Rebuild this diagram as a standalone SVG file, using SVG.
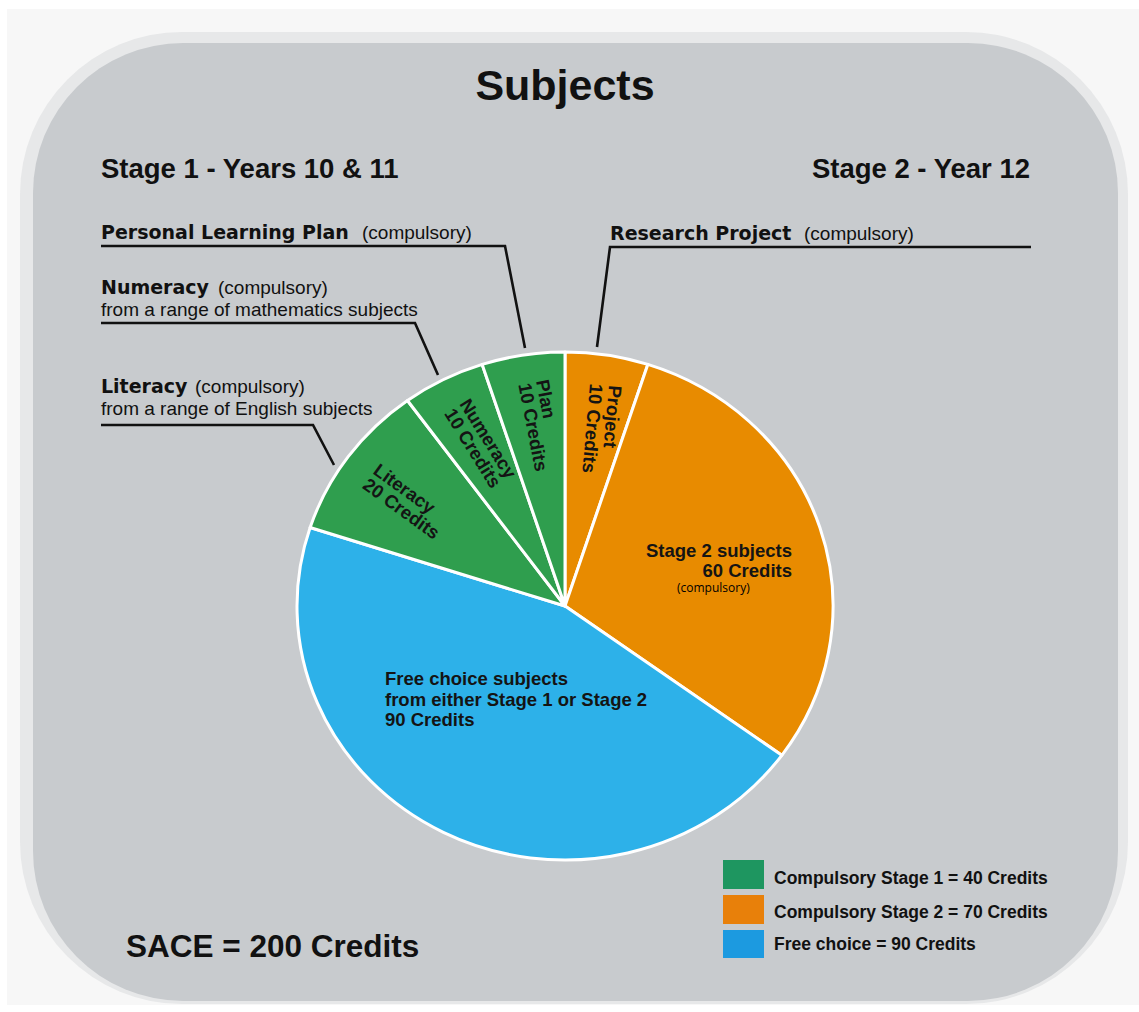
<svg xmlns="http://www.w3.org/2000/svg" width="1139" height="1012" viewBox="0 0 1139 1012">
<style>
.b{font-family:"Liberation Sans",Arial,sans-serif;font-weight:bold;fill:#111}
.d{font-family:"DejaVu Sans",sans-serif;font-weight:bold;fill:#111}
.r{font-family:"Liberation Sans",Arial,sans-serif;font-weight:normal;fill:#111}
.sl{stroke:#fff;stroke-width:3;stroke-linejoin:round}
.pl{font-family:"Liberation Sans",Arial,sans-serif;font-weight:bold;font-size:18.5px;fill:#141414}
.lead{fill:none;stroke:#111;stroke-width:2.6;stroke-linejoin:miter}
</style>
<rect x="0" y="0" width="1139" height="1012" fill="#ffffff"/>
<rect x="7" y="9" width="1132" height="996" fill="#f7f7f7"/>
<g id="panel">
<rect x="20" y="32" width="1108" height="972" rx="162" ry="162" fill="#e7e8e9"/>
<rect x="33" y="43" width="1085" height="958" rx="150" ry="150" fill="#c8cbce"/>
</g>
<g id="title">
<text class="b" x="565" y="100" font-size="43" text-anchor="middle">Subjects</text>
<text class="b" x="101" y="178" font-size="27.5">Stage 1 - Years 10 &amp; 11</text>
<text class="b" x="1030" y="178" font-size="27.5" text-anchor="end">Stage 2 - Year 12</text>
</g>
<g id="connectors">
<path class="lead" d="M101,246 H505 L525,348"/>
<path class="lead" d="M101,323 H415 L438,375"/>
<path class="lead" d="M101,425 H313 L334,465"/>
<path class="lead" d="M1031,247 H610 L597,347"/>
</g>
<g id="label-plp">
<text x="101" y="239" font-size="19"><tspan class="d">Personal Learning Plan</tspan><tspan class="r" x="362">(compulsory)</tspan></text>
</g>
<g id="label-numeracy">
<text x="101" y="294" font-size="19"><tspan class="d">Numeracy</tspan><tspan class="r" x="218">(compulsory)</tspan></text>
<text class="r" x="101" y="316" font-size="19">from a range of mathematics subjects</text>
</g>
<g id="label-literacy">
<text x="101" y="393" font-size="19"><tspan class="d">Literacy</tspan><tspan class="r" x="195">(compulsory)</tspan></text>
<text class="r" x="101" y="415" font-size="19">from a range of English subjects</text>
</g>
<g id="label-research">
<text x="610" y="240" font-size="19"><tspan class="d">Research Project</tspan><tspan class="r" x="804">(compulsory)</tspan></text>
</g>
<g id="pie">
<g id="slice-project">
<path class="sl" fill="#e88b00" d="M565,606 L565,352 A268,254 0 0 1 647.82,364.43 Z"/>
<text class="pl" transform="translate(609,385) rotate(95)"><tspan x="0" y="0">Project</tspan><tspan x="0" y="19">10 Credits</tspan></text>
</g>
<g id="slice-stage2">
<path class="sl" fill="#e88b00" d="M565,606 L647.82,364.43 A268,254 0 0 1 781.82,755.30 Z"/>
<text class="pl" font-size="17.5" text-anchor="end"><tspan x="792" y="557">Stage 2 subjects</tspan><tspan x="792" y="577">60 Credits</tspan></text>
<text x="677" y="592" font-family="'Open Sans',sans-serif" font-size="12" fill="#000">(compulsory)</text>
</g>
<g id="slice-free">
<path class="sl" fill="#2db1e9" d="M565,606 L781.82,755.30 A268,254 0 0 1 310.12,527.51 Z"/>
<text class="pl" font-size="18"><tspan x="385" y="685">Free choice subjects</tspan><tspan x="385" y="705.5">from either Stage 1 or Stage 2</tspan><tspan x="385" y="726">90 Credits</tspan></text>
</g>
<g id="slice-literacy">
<path class="sl" fill="#2f9e4e" d="M565,606 L310.12,527.51 A268,254 0 0 1 407.47,400.51 Z"/>
<text class="pl" transform="translate(372,473) rotate(36)"><tspan x="0" y="0">Literacy</tspan><tspan x="0" y="18">20 Credits</tspan></text>
</g>
<g id="slice-numeracy">
<path class="sl" fill="#2f9e4e" d="M565,606 L407.47,400.51 A268,254 0 0 1 482.18,364.43 Z"/>
<text class="pl" transform="translate(459,404) rotate(58)"><tspan x="0" y="0">Numeracy</tspan><tspan x="0" y="18">10 Credits</tspan></text>
</g>
<g id="slice-plan">
<path class="sl" fill="#2f9e4e" d="M565,606 L482.18,364.43 A268,254 0 0 1 565,352 Z"/>
<text class="pl" transform="translate(536,381) rotate(79)"><tspan x="0" y="0">Plan</tspan><tspan x="0" y="18">10 Credits</tspan></text>
</g>
</g>
<g id="legend">
<rect x="723" y="860" width="41" height="29" fill="#1e9660"/>
<rect x="723" y="895" width="41" height="29" fill="#e8800a"/>
<rect x="723" y="930" width="41" height="28" fill="#1c9ae0"/>
<text class="b" x="774" y="884" font-size="17.5">Compulsory Stage 1 = 40 Credits</text>
<text class="b" x="774" y="918" font-size="17.5">Compulsory Stage 2 = 70 Credits</text>
<text class="b" x="774" y="950" font-size="17.5">Free choice = 90 Credits</text>
</g>
<g id="total">
<text class="b" x="126" y="957" font-size="31.5">SACE = 200 Credits</text>
</g>
</svg>
